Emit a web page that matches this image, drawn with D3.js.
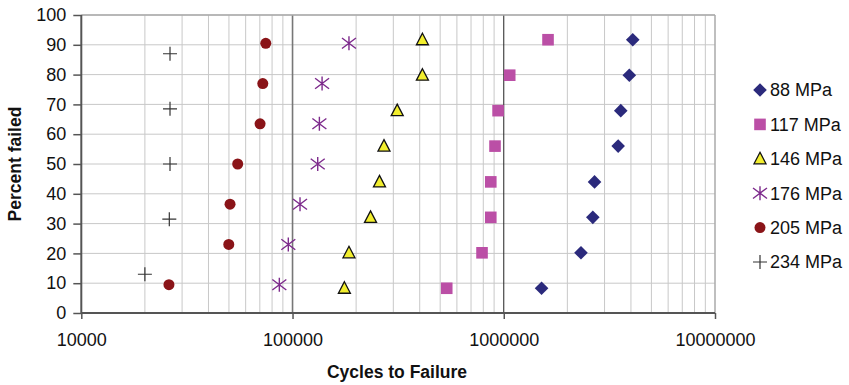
<!DOCTYPE html>
<html><head><meta charset="utf-8">
<script src="https://cdn.jsdelivr.net/npm/d3@7"></script>
<style>
body{margin:0;background:#fff;}
text{font-family:"Liberation Sans",Arial,sans-serif;}
</style></head>
<body><svg id="c" width="849" height="385"></svg>
<script>
const seriesNames = ["88 MPa","117 MPa","146 MPa","176 MPa","205 MPa","234 MPa"];
const pct8 = [8.3, 20.2, 32.1, 44.0, 56.0, 67.9, 79.8, 91.7];
const pct7 = [9.5, 23.0, 36.5, 50.0, 63.5, 77.0, 90.5];
const pct5 = [13.0, 31.5, 50.0, 68.5, 87.0];
const cycles88  = [1510000, 2320000, 2640000, 2690000, 3480000, 3580000, 3930000, 4080000];
const cycles117 = [537000, 789000, 868000, 868000, 909000, 940000, 1067000, 1620000];
const cycles146 = [176000, 185000, 234000, 258000, 271000, 313000, 412000, 412000];
const cycles176 = [86600, 95500, 108500, 131600, 134000, 138000, 185000];
const cycles205 = [26000, 49900, 50600, 55000, 70200, 72300, 74700];
const cycles234 = [20000, 26100, 26300, 26300, 26300];
const xTicks = [10000, 100000, 1000000, 10000000];
const yTicks = [0,10,20,30,40,50,60,70,80,90,100];

const series = [
  {name: seriesNames[0], x: cycles88,  y: pct8, shape: "diamond"},
  {name: seriesNames[1], x: cycles117, y: pct8, shape: "square"},
  {name: seriesNames[2], x: cycles146, y: pct8, shape: "triangle"},
  {name: seriesNames[3], x: cycles176, y: pct7, shape: "star"},
  {name: seriesNames[4], x: cycles205, y: pct7, shape: "circle"},
  {name: seriesNames[5], x: cycles234, y: pct5, shape: "plus"}
];

const L = 81.3, R = 715, T = 15, B = 313;
const FS = 18, TFS = 17.5;
const svg = d3.select("#c");
const x = d3.scaleLog().domain([1e4, 1e7]).range([L, R]);
const y = d3.scaleLinear().domain([0, 100]).range([B, T]);

// minor vertical grid
const minor = [];
for (let e = 4; e < 7; e++) for (let m = 2; m <= 9; m++) minor.push(m * Math.pow(10, e));
svg.append("g").selectAll("line").data(minor).join("line")
  .attr("x1", d => x(d)).attr("x2", d => x(d)).attr("y1", T).attr("y2", B)
  .attr("stroke", "#c8c8c8").attr("stroke-width", 1);
// horizontal grid
svg.append("g").selectAll("line").data(yTicks.slice(1)).join("line")
  .attr("x1", L).attr("x2", R).attr("y1", d => y(d)).attr("y2", d => y(d))
  .attr("stroke", "#c8c8c8").attr("stroke-width", 1);
// decade lines
svg.append("line").attr("x1", x(1e5)).attr("x2", x(1e5)).attr("y1", T).attr("y2", B)
  .attr("stroke", "#777").attr("stroke-width", 1.6);
svg.append("line").attr("x1", x(1e6)).attr("x2", x(1e6)).attr("y1", T).attr("y2", B)
  .attr("stroke", "#222").attr("stroke-width", 1);
// border top/right
svg.append("line").attr("x1", L).attr("x2", R).attr("y1", T).attr("y2", T).attr("stroke", "#aaa").attr("stroke-width", 1.5);
svg.append("line").attr("x1", R).attr("x2", R).attr("y1", T).attr("y2", B).attr("stroke", "#aaa").attr("stroke-width", 1.5);

// axes
const yAxis = svg.append("g").attr("transform", `translate(${L},0)`)
  .call(d3.axisLeft(y).tickValues(yTicks).tickSize(8).tickPadding(7).tickFormat(d3.format("d")));
const xAxis = svg.append("g").attr("transform", `translate(0,${B})`)
  .call(d3.axisBottom(x).tickValues(xTicks).tickSize(6).tickPadding(14).tickFormat(d => String(d)));
[yAxis, xAxis].forEach(g => {
  g.select(".domain").attr("stroke", "#555").attr("stroke-width", 2);
  g.selectAll(".tick line").attr("stroke", "#555").attr("stroke-width", 1.5);
  g.selectAll("text").attr("font-size", FS).attr("fill", "#111")
   .attr("font-family", "'Liberation Sans', Arial, sans-serif");
});
yAxis.select(".domain").attr("d", `M0,${B}V${T}`);
xAxis.select(".domain").attr("d", `M${L},0H${R}`);

// markers
function drawMarker(g, shape, cx, cy) {
  if (shape === "diamond") {
    const r = 6.8;
    g.append("path").attr("d", `M${cx},${cy-r}L${cx+r},${cy}L${cx},${cy+r}L${cx-r},${cy}Z`)
      .attr("fill", "#2b2a7c");
  } else if (shape === "square") {
    g.append("rect").attr("x", cx - 5.8).attr("y", cy - 5.8).attr("width", 11.6).attr("height", 11.6).attr("fill", "#bb4fa6");
  } else if (shape === "triangle") {
    g.append("path").attr("d", `M${cx},${cy-6.5}L${cx+6},${cy+5}L${cx-6},${cy+5}Z`)
      .attr("fill", "#f2ee2e").attr("stroke", "#111").attr("stroke-width", 1.3).attr("stroke-linejoin", "miter");
  } else if (shape === "star") {
    const r = 7;
    g.append("path").attr("d", `M${cx-r},${cy-r*0.75}L${cx+r},${cy+r*0.75}M${cx-r},${cy+r*0.75}L${cx+r},${cy-r*0.75}M${cx},${cy-r}V${cy+r}`)
      .attr("stroke", "#7d2a8c").attr("stroke-width", 1.4).attr("fill", "none");
  } else if (shape === "circle") {
    g.append("circle").attr("cx", cx).attr("cy", cy).attr("r", 5.5).attr("fill", "#8a1418");
  } else if (shape === "plus") {
    const r = 7;
    g.append("path").attr("d", `M${cx-r},${cy}H${cx+r}M${cx},${cy-r}V${cy+r}`)
      .attr("stroke", "#333").attr("stroke-width", 1.2).attr("fill", "none");
  }
}
series.forEach(s => {
  const g = svg.append("g");
  s.x.forEach((v, i) => drawMarker(g, s.shape, x(v), y(s.y[i])));
});

// legend
const legY0 = 90, legDy = 34.4, legX = 760;
series.forEach((s, i) => {
  const g = svg.append("g");
  const cy = legY0 + i * legDy;
  drawMarker(g, s.shape, legX, cy);
  g.append("text").attr("x", legX + 10).attr("y", cy).attr("dy", "0.36em")
    .attr("font-size", FS).attr("fill", "#111").text(s.name);
});

// axis titles
svg.append("text").attr("x", 397).attr("y", 378).attr("text-anchor", "middle")
  .attr("font-size", TFS).attr("font-weight", "bold").attr("fill", "#111").text("Cycles to Failure");
svg.append("text").attr("transform", `translate(21,${(T + B) / 2}) rotate(-90)`).attr("text-anchor", "middle")
  .attr("font-size", TFS).attr("font-weight", "bold").attr("fill", "#111").text("Percent failed");
</script></body></html>
